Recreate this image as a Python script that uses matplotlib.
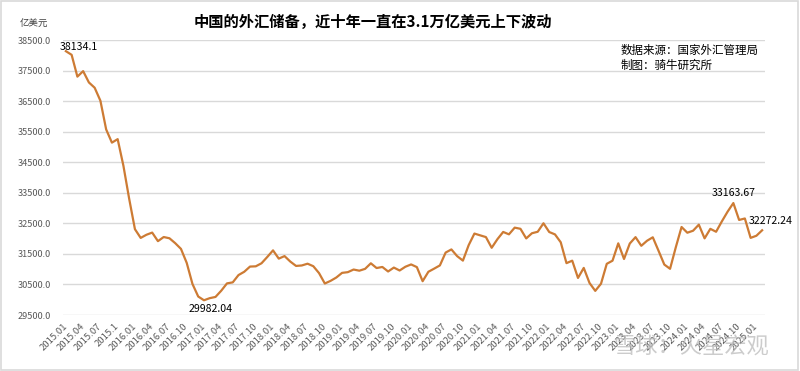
import matplotlib
matplotlib.use("Agg")
import matplotlib.pyplot as plt
from matplotlib.patches import Rectangle

plt.rcParams['font.family'] = ['Noto Sans CJK SC', 'DejaVu Sans']

# Monthly FX reserves (100 million USD), 2015.01 - 2025.02
reserves = [
    38134.1, 38015, 37301, 37481, 37111, 36938, 36513, 35574, 35141, 35255, 34383, 33304,   # 2015
    32309, 32023, 32126, 32197, 31917, 32052, 32011, 31851, 31664, 31206, 30516, 30105,     # 2016
    29982.04, 30051, 30091, 30295, 30535, 30568, 30807, 30915, 31085, 31093, 31193, 31399,  # 2017
    31615, 31345, 31428, 31249, 31106, 31121, 31179, 31097, 30870, 30531, 30617, 30727,     # 2018
    30879, 30902, 30988, 30950, 31010, 31192, 31037, 31072, 30924, 31052, 30956, 31079,     # 2019
    31155, 31067, 30606, 30915, 31017, 31123, 31544, 31646, 31426, 31280, 31785, 32165,     # 2020
    32107, 32050, 31700, 31982, 32218, 32140, 32359, 32321, 32006, 32176, 32224, 32502,     # 2021
    32216, 32138, 31880, 31197, 31278, 30713, 31041, 30549, 30290, 30524, 31175, 31277,     # 2022
    31845, 31333, 31839, 32048, 31765, 31930, 32043, 31601, 31151, 31012, 31718, 32380,     # 2023
    32193, 32258, 32457, 32008, 32320, 32224, 32563, 32882, 33163.67, 32611, 32659, 32024, # 2024
    32093, 32272.24,                                                                        # 2025
]

tick_labels = [
    "2015.01", "2015.04", "2015.07", "2015.1",
    "2016.01", "2016.04", "2016.07", "2016.10",
    "2017.01", "2017.04", "2017.07", "2017.10",
    "2018.01", "2018.04", "2018.07", "2018.10",
    "2019.01", "2019.04", "2019.07", "2019.10",
    "2020.01", "2020.04", "2020.07", "2020.10",
    "2021.01", "2021.04", "2021.07", "2021.10",
    "2022.01", "2022.04", "2022.07", "2022.10",
    "2023.01", "2023.04", "2023.07", "2023.10",
    "2024.01", "2024.04", "2024.07", "2024.10",
    "2025.01",
]
tick_step = 3

y_ticks = [29500, 30500, 31500, 32500, 33500, 34500, 35500, 36500, 37500, 38500]

title = "中国的外汇储备，近十年一直在3.1万亿美元上下波动"
unit = "亿美元"
source1 = "数据来源：国家外汇管理局"
source2 = "制图：骑牛研究所"
watermark = "雪球：火星宏观"

line_color = "#CD7B34"
grid_color = "#D9D9D9"
tick_color = "#595959"

fig = plt.figure(figsize=(8.0, 3.71), dpi=100)
fig.patch.set_facecolor("white")
fig.patches.append(Rectangle((0.001, 0.003), 0.997, 0.994, transform=fig.transFigure,
                             fill=False, edgecolor="#D9D9D9", linewidth=1.2))

ax = fig.add_axes([63 / 800, 1 - 315 / 371, (765 - 63) / 800, (315 - 40) / 371])
x = list(range(len(reserves)))
ax.plot(x, reserves, color=line_color, linewidth=1.6, solid_joinstyle="round", zorder=3)

ax.set_xlim(-0.5, len(reserves) - 0.5)
ax.set_ylim(y_ticks[0], y_ticks[-1])
ax.set_yticks(y_ticks)
ax.set_yticklabels([f"{v:.1f}" for v in y_ticks], fontsize=6.6, color=tick_color)
ax.yaxis.grid(True, color=grid_color, linewidth=1.0)
ax.set_axisbelow(True)

ax.set_xticks([i * tick_step for i in range(len(tick_labels))])
ax.set_xticklabels(tick_labels, rotation=45, ha="right", va="center",
                   rotation_mode="anchor", fontsize=6.8, color=tick_color)
ax.tick_params(axis="both", length=0)
ax.tick_params(axis="y", pad=9)
ax.tick_params(axis="x", pad=7)
for s in ax.spines.values():
    s.set_visible(False)

# data labels: first value, overall minimum, recent peak, last value
i_first = 0
i_min = reserves.index(min(reserves))
recent = reserves[i_min + 12:]
i_peak = i_min + 12 + recent.index(max(recent))
i_last = len(reserves) - 1
ax.annotate(f"{reserves[i_first]}", (i_first, reserves[i_first]), xytext=(9, 3),
            textcoords="offset points", ha="center", va="center", fontsize=7.6)
ax.annotate(f"{reserves[i_min]:.2f}", (i_min, reserves[i_min]), xytext=(5, -6),
            textcoords="offset points", ha="center", va="center", fontsize=7.6)
ax.annotate(f"{reserves[i_peak]:.2f}", (i_peak, reserves[i_peak]), xytext=(0, 7.5),
            textcoords="offset points", ha="center", va="center", fontsize=7.6)
ax.annotate(f"{reserves[i_last]:.2f}", (i_last, reserves[i_last]), xytext=(6, 6.5),
            textcoords="offset points", ha="center", va="center", fontsize=7.6)

fig.text(373 / 800, 1 - 22 / 371, title, ha="center", va="center",
         fontsize=11, fontweight="bold", color="black")
fig.text(20 / 800, 1 - 24 / 371, unit, ha="left", va="center", fontsize=6.8, color="#404040")
fig.text(621 / 800, 1 - 50.5 / 371, source1, ha="left", va="center", fontsize=8.3, color="black")
fig.text(621 / 800, 1 - 65.5 / 371, source2, ha="left", va="center", fontsize=8.3, color="black")
fig.text(613 / 800, 1 - 347 / 371, watermark, ha="left", va="center", fontsize=16,
         color="#BBBBBB", alpha=0.75)

fig.savefig("out.png", dpi=100, facecolor="white")
